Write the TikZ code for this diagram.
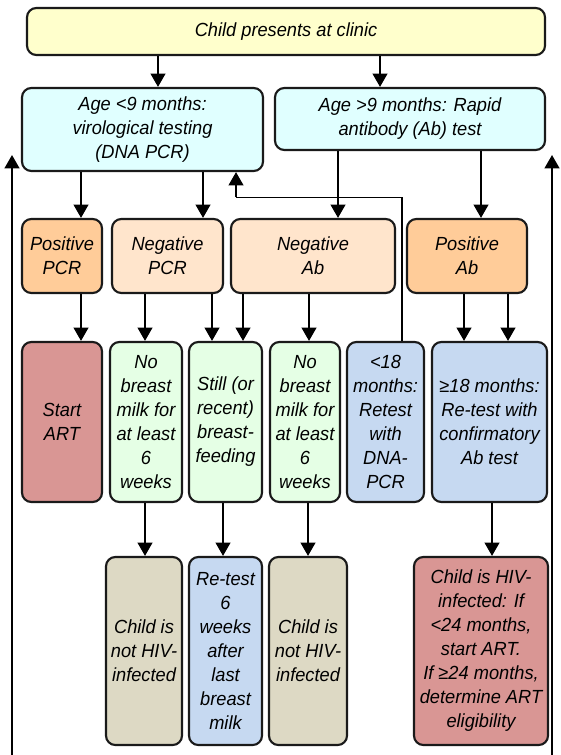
\documentclass[tikz,border=0pt]{standalone}
\usepackage{fontspec}
\setmainfont{Liberation Sans}[FakeStretch=0.96]
\usetikzlibrary{arrows.meta}

\definecolor{clinicYellow}{RGB}{255,255,204}
\definecolor{ageCyan}{RGB}{224,255,255}
\definecolor{posOrange}{RGB}{255,204,153}
\definecolor{negPeach}{RGB}{255,229,204}
\definecolor{artRed}{RGB}{217,150,148}
\definecolor{milkGreen}{RGB}{229,255,229}
\definecolor{retestBlue}{RGB}{198,217,241}
\definecolor{notTan}{RGB}{221,217,196}

\tikzset{every picture/.style={line width=1.6pt}}
\tikzset{
  box/.style={draw={rgb, 255:red, 26; green, 26; blue, 26}, rounded corners=7pt, align=center, inner sep=1pt,
    font=\itshape\fontsize{14.25}{18}\selectfont},
  wh/.style 2 args={minimum width=#1*0.75pt, minimum height=#2*0.75pt},
  arr/.style={-{Triangle[length=10pt,width=11pt]}},
  feedback/.style={line width=1pt},
}

\begin{document}
\begin{tikzpicture}[x=0.75pt,y=0.75pt,yscale=-1,xscale=1]
	%set diagram left start at 0, and has height of 755
	\useasboundingbox (0,0) rectangle (560,755);

	%Shape: Rounded Rect [top]
	\node[box, fill=clinicYellow, wh={518}{47}] (clinic) at (286,31.5) {Child presents at clinic};
	%Shape: Rounded Rect [age tests]
	\node[box, fill=ageCyan, wh={241}{83}] (ageLow) at (142.5,129.5) {Age <9 months:\\virological testing\\(DNA PCR)};
	\node[box, fill=ageCyan, wh={270}{62}] (ageHigh) at (410,119) {Age >9 months: Rapid\\antibody (Ab) test};
	%Shape: Rounded Rect [results]
	\node[box, fill=posOrange, wh={80}{74}] (posPCR) at (62,256) {Positive\\PCR};
	\node[box, fill=negPeach, wh={111}{74}] (negPCR) at (167.5,256) {Negative\\PCR};
	\node[box, fill=negPeach, wh={164}{74}] (negAb) at (313,256) {Negative\\Ab};
	\node[box, fill=posOrange, wh={120}{74}] (posAb) at (467,256) {Positive\\Ab};
	%Shape: Rounded Rect [next steps]
	\node[box, fill=artRed, wh={80}{160}] (startART) at (62,422) {Start\\ART};
	\node[box, fill=milkGreen, wh={72}{160}] (noMilkA) at (146,422) {No\\breast\\milk for\\at least\\6\\weeks};
	\node[box, fill=milkGreen, wh={73}{160}] (stillFeed) at (225.5,422) {Still (or\\recent)\\breast-\\feeding};
	\node[box, fill=milkGreen, wh={70}{160}] (noMilkB) at (305,422) {No\\breast\\milk for\\at least\\6\\weeks};
	\node[box, fill=retestBlue, wh={77}{160}] (under18) at (385.5,422) {<18\\months:\\Retest\\with\\DNA-\\PCR};
	\node[box, fill=retestBlue, wh={115}{160}] (over18) at (489.5,422) {≥18 months:\\Re-test with\\confirmatory\\Ab test};
	%Shape: Rounded Rect [outcomes]
	\node[box, fill=notTan, wh={76}{188}] (notInfA) at (144,651) {Child is\\not HIV-\\infected};
	\node[box, fill=retestBlue, wh={73}{188}] (retest) at (225.5,651) {Re-test\\6\\weeks\\after\\last\\breast\\milk};
	\node[box, fill=notTan, wh={78}{188}] (notInfB) at (308,651) {Child is\\not HIV-\\infected};
	\node[box, fill=artRed, wh={134}{188}] (hivInf) at (481,651) {Child is HIV-\\infected: If\\<24 months,\\start ART.\\If ≥24 months,\\determine ART\\eligibility};

	%Straight Lines [clinic to age]
	\draw[arr] (clinic.south -| 158,0) -- (ageLow.north -| 158,0);
	\draw[arr] (clinic.south -| 380,0) -- (ageHigh.north -| 380,0);
	%Straight Lines [age to results]
	\draw[arr] (ageLow.south -| 81,0) -- (posPCR.north -| 81,0);
	\draw[arr] (ageLow.south -| 203,0) -- (negPCR.north -| 203,0);
	\draw[arr] (ageHigh.south -| 338,0) -- (negAb.north -| 338,0);
	\draw[arr] (ageHigh.south -| 481,0) -- (posAb.north -| 481,0);
	%Straight Lines [results to next steps]
	\draw[arr] (posPCR.south -| 81,0) -- (startART.north -| 81,0);
	\draw[arr] (negPCR.south -| 145,0) -- (noMilkA.north -| 145,0);
	\draw[arr] (negPCR.south -| 212,0) -- (stillFeed.north -| 212,0);
	\draw[arr] (negAb.south -| 243,0) -- (stillFeed.north -| 243,0);
	\draw[arr] (negAb.south -| 309,0) -- (noMilkB.north -| 309,0);
	\draw[arr] (posAb.south -| 464,0) -- (over18.north -| 464,0);
	\draw[arr] (posAb.south -| 508,0) -- (over18.north -| 508,0);
	%Straight Lines [next steps to outcomes]
	\draw[arr] (noMilkA.south -| 145,0) -- (notInfA.north -| 145,0);
	\draw[arr] (stillFeed.south -| 223,0) -- (retest.north -| 223,0);
	\draw[arr] (noMilkB.south -| 308,0) -- (notInfB.north -| 308,0);
	\draw[arr] (over18.south -| 492,0) -- (hivInf.north -| 492,0);
	%Straight Lines [retest loop back]
	\coordinate (loopTurn) at (236,197.5);
	\draw[feedback] (under18.north -| 402,0) |- (loopTurn);
	\draw[arr] (loopTurn) -- (ageLow.south -| loopTurn);
	%Straight Lines [side arrows]
	\coordinate (leftFoot) at (12,755);
	\coordinate (leftHead) at (12,155);
	\coordinate (rightFoot) at (552,755);
	\coordinate (rightHead) at (552,155);
	\draw[arr] (leftFoot) -- (leftHead);
	\draw[arr] (rightFoot) -- (rightHead);

\end{tikzpicture}
\end{document}
